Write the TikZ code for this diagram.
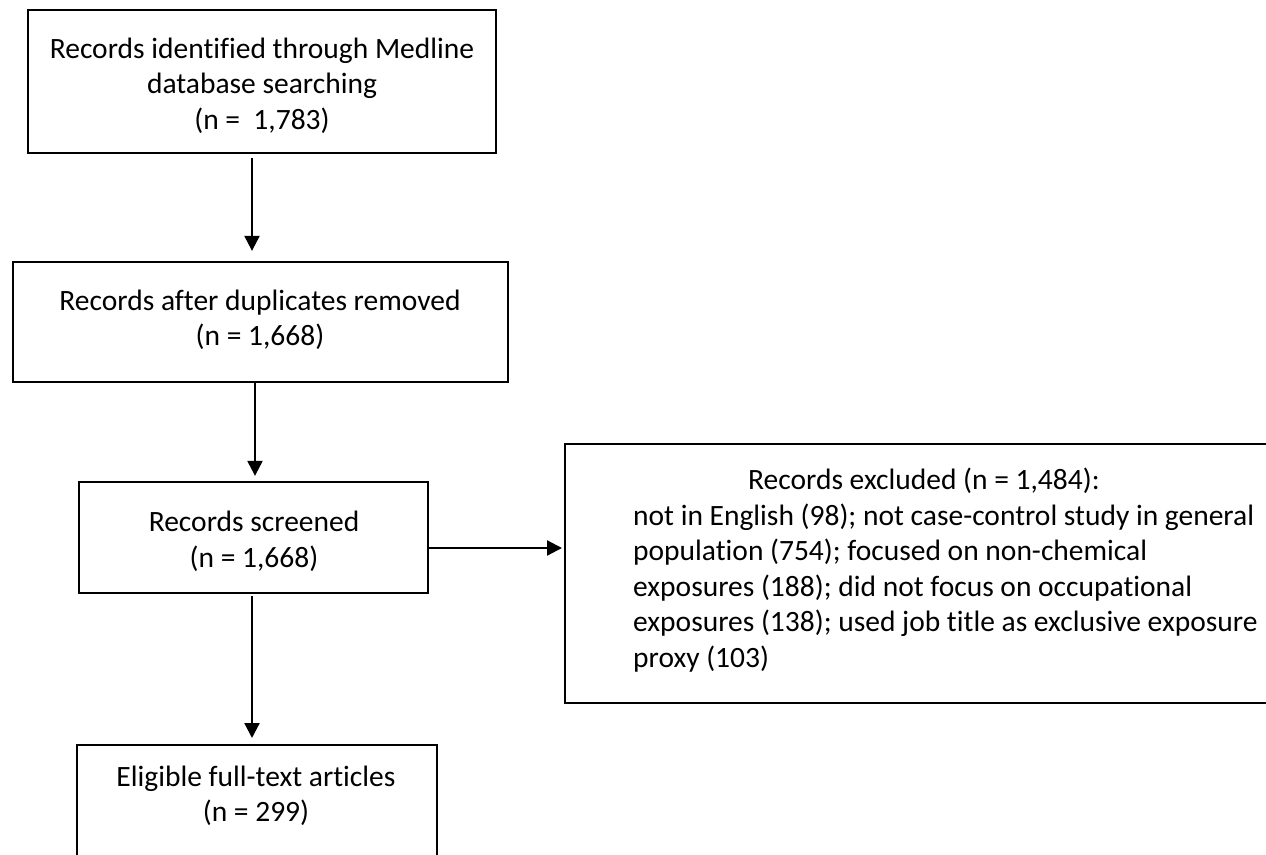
\documentclass[tikz,border=0pt]{standalone}
\usepackage{fontspec}
\setmainfont[Ligatures=NoCommon]{Carlito}
\usetikzlibrary{arrows.meta}
\begin{document}
\begin{tikzpicture}[x=1pt,y=-1pt,
  box/.style={draw=black,line width=2.3pt,rectangle,inner sep=0pt},
  txt/.style={inner sep=0pt,align=center,font=\fontsize{29.5}{35.5}\selectfont},
  arr/.style={line width=2.2pt,-{Triangle[width=15pt,length=15pt]}}]
\useasboundingbox (0,0) rectangle (1266,854);
\clip (0,0) rectangle (1266,854);
% boxes
\node[box,minimum width=468pt,minimum height=143pt] (b1) at (262,81.5) {};
\node[box,minimum width=495pt,minimum height=120pt] (b2) at (260.5,322) {};
\node[box,minimum width=349pt,minimum height=111pt] (b3) at (253.5,537.5) {};
\node[box,minimum width=720pt,minimum height=259pt,anchor=north west] (b4) at (564,443) {};
\node[box,minimum width=360pt,minimum height=140pt,anchor=north west] (b5) at (76,744) {};
% texts
\node[txt] (t1) at (262,85.5) {Records identified through Medline\\database searching\\(n =\ \ 1,783)};
\node[txt] (t2) at (260,320) {Records after duplicates removed\\(n = 1,668)};
\node[txt] (t3) at (254,541.5) {Records screened\\(n = 1,668)};
\node[txt] (t5) at (256,796) {Eligible full-text articles\\(n = 299)};
\node[txt,align=left,anchor=north west] (t4) at (633,468) {\hspace*{115pt}Records excluded (n = 1,484):\\not in English (98); not case-control study in general\\population (754); focused on non-chemical\\exposures (188); did not focus on occupational\\exposures (138); used job title as exclusive exposure\\proxy (103)};
% connectors
\coordinate (a1) at (252,0);
\draw[arr,shorten <=4pt,shorten >=10pt] (b1.south -| a1) -- (b2.north -| a1);
\coordinate (a2) at (255,0);
\draw[arr,shorten >=5pt] (b2.south -| a2) -- (b3.north -| a2);
\coordinate (a3) at (252,0);
\draw[arr,shorten <=2pt,shorten >=6pt] (b3.south -| a3) -- (b5.north -| a3);
\coordinate (a4) at (0,548);
\draw[arr,shorten >=2pt] (b3.east |- a4) -- (b4.west |- a4);
\end{tikzpicture}
\end{document}
